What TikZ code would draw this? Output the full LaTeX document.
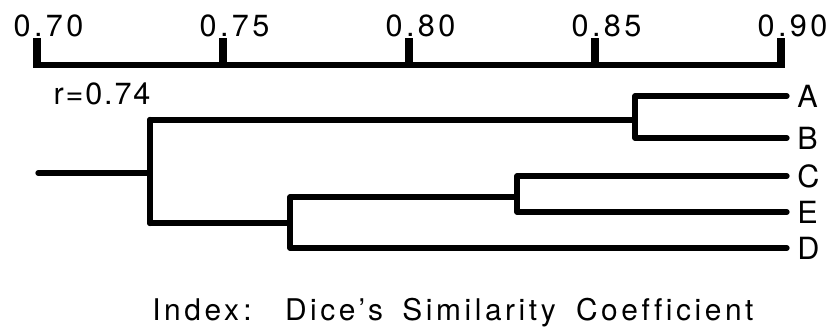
\documentclass[tikz,border=0pt]{standalone}
\usepackage{fontspec}
\usepackage{tikz}
\usetikzlibrary{positioning}
\newfontfamily\dendfont[LetterSpace=6, Ligatures=NoCommon]{TeX Gyre Heros}
\newfontfamily\scalefont[LetterSpace=11, Ligatures=NoCommon]{TeX Gyre Heros}
\newfontfamily\titlefont[LetterSpace=12, Ligatures=NoCommon]{TeX Gyre Heros}

\begin{document}
\begin{tikzpicture}[x=0.02cm, y=-0.02cm,
		branch/.style={line width=3pt, line cap=round, line join=round},
		axisline/.style={line width=3.4pt},
		tickmark/.style={line width=4.6pt},
		txt/.style={font=\dendfont\fontsize{17.4}{20}\selectfont, inner sep=0pt},
		scalelab/.style={txt, font=\scalefont\fontsize{17.4}{20}\selectfont},
		leaf/.style={txt, node distance=0.2cm}]
		\useasboundingbox (0,0) rectangle (829,331);
		% similarity scale
		\foreach \i/\v in {0/0.70, 1/0.75, 2/0.80, 3/0.85, 4/0.90} {
			\coordinate (tick\i) at (37+186*\i, 68);
			\draw[tickmark] (tick\i) -- ++(0,-30);
			\node[scalelab] (lab\i) at (48.5+186*\i, 26) {\v};
		}
		\draw[axisline] ([yshift=1.7pt]tick0) -- ([yshift=1.7pt]tick4);
		% joins of the tree
		\coordinate (stem) at (38,173);
		\coordinate (jAll) at (150,173);
		\coordinate (jAB) at (635,120);
		\coordinate (jCED) at (290,223);
		\coordinate (jCE) at (517,197);
		\foreach \n/\y in {A/96, B/138, C/176, E/212, D/248}
			\coordinate (end\n) at (787,\y);
		\draw[branch] (endA) -| (jAB) |- (endB);
		\draw[branch] (endC) -| (jCE) |- (endE);
		\draw[branch] (jCE) -| (jCED) |- (endD);
		\draw[branch] (jAB) -| (jAll) |- (jCED);
		\draw[branch] (stem) -- (jAll);
		\draw[line width=3.6pt, line cap=round] (jAll |- jAB) -- (jAll |- jCED);
		% leaves
		\foreach \n in {A,B,C,E,D}
			\node[leaf, right=of end\n] (\n) {\n};
		\node[txt] (rval) at (102,94) {r=0.74};
		\node[txt, font=\titlefont\fontsize{17}{20}\selectfont, anchor=west] (index) at (152,313)
			{Index\hspace{2.5pt}:\hspace{19pt}Dice’s\hspace{11pt}Similarity\hspace{11.5pt}Coefficient};
	\end{tikzpicture}
\end{document}
